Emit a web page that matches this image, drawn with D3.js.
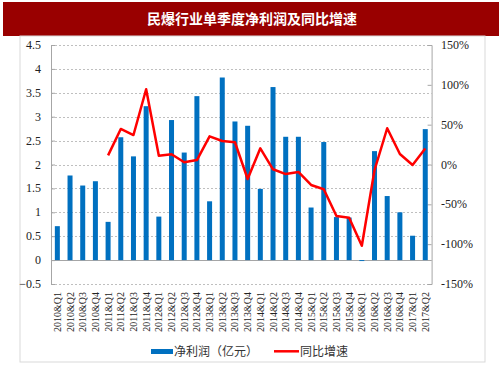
<!DOCTYPE html>
<html><head><meta charset="utf-8">
<script src="https://cdn.jsdelivr.net/npm/d3@7"></script>
<style>body{margin:0;background:#fff;}svg{display:block;}</style>
</head><body>
<svg id="c" width="503" height="378"></svg>
<script>
const categories = ["2010&Q1","2010&Q2","2010&Q3","2010&Q4","2011&Q1","2011&Q2","2011&Q3","2011&Q4","2012&Q1","2012&Q2","2012&Q3","2012&Q4","2013&Q1","2013&Q2","2013&Q3","2013&Q4","2014&Q1","2014&Q2","2014&Q3","2014&Q4","2015&Q1","2015&Q2","2015&Q3","2015&Q4","2016&Q1","2016&Q2","2016&Q3","2016&Q4","2017&Q1","2017&Q2"];
const profit = [0.71,1.77,1.56,1.65,0.80,2.57,2.17,3.22,0.91,2.93,2.25,3.43,1.23,3.82,2.90,2.81,1.49,3.62,2.58,2.58,1.10,2.47,0.90,0.89,-0.02,2.28,1.34,1.00,0.51,2.74];
const growth = [null,null,null,null,11.5,44.6,37,94.5,11,12.8,2.8,5.6,35.4,29.5,27.9,-18.2,20.3,-6,-12,-9.4,-25.7,-31,-64.7,-66.8,-102,-7,45.5,13.2,-0.6,20];
const leftTicks = [-0.5,0,0.5,1,1.5,2,2.5,3,3.5,4,4.5];
const rightTicks = [-150,-100,-50,0,50,100,150];
const title = "民爆行业单季度净利润及同比增速";
const legendLabels = ["净利润（亿元）","同比增速"];

const svg = d3.select("#c");
const L = 51, R = 431.6, T = 45, B = 284;
const x = d3.scaleBand().domain(categories).range([L, R]);
const yL = d3.scaleLinear().domain([-0.5, 4.5]).range([B, T]);
const yR = d3.scaleLinear().domain([-150, 150]).range([B, T]);
const serif = "'Liberation Serif','Times New Roman',serif";
const cjk = "'Noto Sans CJK SC',sans-serif";

// title bar
svg.append("rect").attr("x",3).attr("y",2).attr("width",496).attr("height",34).attr("fill","#990000");
svg.append("text").attr("x",252).attr("y",24).attr("text-anchor","middle")
  .attr("fill","#fff").attr("font-family",cjk).attr("font-weight","bold").attr("font-size",14).text(title);
// frame
svg.append("rect").attr("x",20).attr("y",36).attr("width",465).attr("height",326)
  .attr("fill","none").attr("stroke","#d9d9d9").attr("stroke-width",1);

// gridlines
svg.append("g").selectAll("line").data(leftTicks).join("line")
  .attr("x1",L).attr("x2",R).attr("y1",d=>Math.round(yL(d))+0.5).attr("y2",d=>Math.round(yL(d))+0.5)
  .attr("stroke","#bfbfbf").attr("stroke-dasharray","2,2").attr("stroke-width",1);

// zero axis
svg.append("line").attr("x1",L).attr("x2",R).attr("y1",Math.round(yL(0))+0.5).attr("y2",Math.round(yL(0))+0.5)
  .attr("stroke","#a6a6a6").attr("stroke-width",1);

// axes
const axL = svg.append("g").attr("transform",`translate(${L},0)`)
  .call(d3.axisRight(yL).tickValues(leftTicks).tickSize(4).tickFormat(""));
const axR = svg.append("g").attr("transform",`translate(${R},0)`)
  .call(d3.axisLeft(yR).tickValues(rightTicks).tickSize(4).tickFormat(""));
[axL,axR].forEach(a=>{a.selectAll("path,line").attr("stroke","#a6a6a6");});

// tick labels
svg.append("g").selectAll("text").data(leftTicks).join("text")
  .attr("x",41).attr("y",d=>yL(d)+4).attr("text-anchor","end")
  .attr("font-family",serif).attr("font-size",12).attr("fill","#222").text(d=>d3.format("")(d));
svg.append("g").selectAll("text").data(rightTicks).join("text")
  .attr("x",441).attr("y",d=>yR(d)+4).attr("text-anchor","start")
  .attr("font-family",serif).attr("font-size",12).attr("fill","#222").text(d=>d+"%");

// bars
const bw = 5;
svg.append("g").selectAll("rect").data(categories).join("rect")
  .attr("x",(d)=>x(d)+x.bandwidth()/2-bw/2)
  .attr("y",(d,i)=>yL(Math.max(0,profit[i])))
  .attr("width",bw)
  .attr("height",(d,i)=>Math.max(0.8,Math.abs(yL(profit[i])-yL(0))))
  .attr("fill","#0070C0");

// line
const line = d3.line().defined(d=>d.v!==null).x(d=>x(d.c)+x.bandwidth()/2).y(d=>yR(d.v));
svg.append("path").datum(categories.map((c,i)=>({c,v:growth[i]})))
  .attr("d",line).attr("fill","none").attr("stroke","#FF0000").attr("stroke-width",2.5).attr("stroke-linejoin","round");

// x labels
svg.append("g").selectAll("text").data(categories).join("text")
  .attr("transform",d=>`translate(${x(d)+x.bandwidth()/2+3.5},292) rotate(-90)`)
  .attr("text-anchor","end").attr("font-family",serif).attr("font-size",10).attr("fill","#222").text(d=>d);

// legend
svg.append("rect").attr("x",151).attr("y",349).attr("width",22).attr("height",5).attr("fill","#0070C0");
svg.append("text").attr("x",174).attr("y",355.5).attr("font-family",cjk).attr("font-size",12).attr("fill","#333").text(legendLabels[0]);
svg.append("line").attr("x1",274).attr("x2",299).attr("y1",351.3).attr("y2",351.3).attr("stroke","#FF0000").attr("stroke-width",2.5);
svg.append("text").attr("x",300).attr("y",355.5).attr("font-family",cjk).attr("font-size",12).attr("fill","#333").text(legendLabels[1]);
</script>
</body></html>
